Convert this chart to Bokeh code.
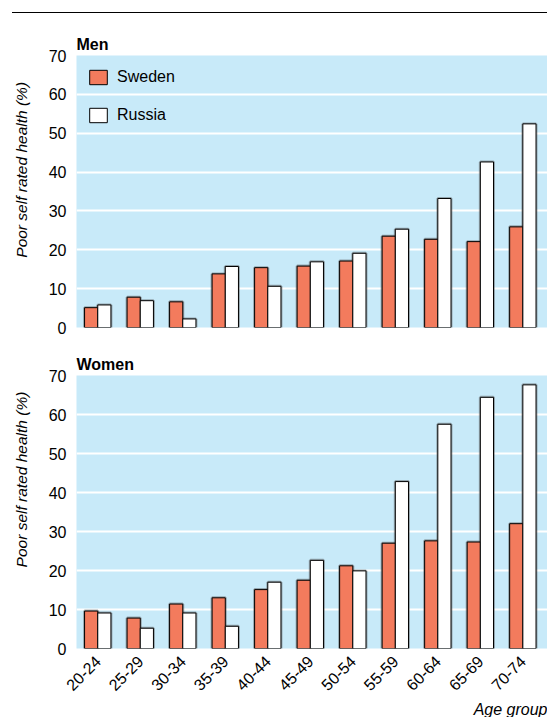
import numpy as np
from bokeh.plotting import figure
from bokeh.models import Range1d, FixedTicker, Title, Legend, LegendItem, Div, ColumnDataSource
from bokeh.layouts import column, row
from bokeh.core.properties import value
from bokeh.embed import file_html
from bokeh.resources import INLINE

age_groups = ["20-24", "25-29", "30-34", "35-39", "40-44", "45-49",
              "50-54", "55-59", "60-64", "65-69", "70-74"]
men_sweden = [5.1, 7.8, 6.6, 13.8, 15.4, 15.8, 17.1, 23.5, 22.7, 22.1, 25.9]
men_russia = [5.8, 6.9, 2.2, 15.7, 10.6, 16.9, 19.1, 25.3, 33.2, 42.6, 52.4]
women_sweden = [9.6, 7.8, 11.4, 13.0, 15.1, 17.5, 21.2, 27.0, 27.6, 27.3, 32.0]
women_russia = [9.1, 5.2, 9.1, 5.7, 17.0, 22.6, 19.9, 42.8, 57.5, 64.4, 67.6]
y_ticks = [0, 10, 20, 30, 40, 50, 60, 70]
y_label = "Poor self rated health (%)"

SWEDEN = "#F37B5D"
RUSSIA = "#FFFFFF"
BG = "#C8EAF9"
FONT = "'Liberation Sans', Arial, sans-serif"
LAB_W = 36
W = 547 - LAB_W
BAR_W = 0.31


def make_label(height, top_gap):
    f = figure(width=LAB_W, height=height, output_backend="svg", toolbar_location=None,
               x_range=Range1d(0, LAB_W), y_range=Range1d(0, height),
               x_axis_location=None, y_axis_location=None,
               min_border=0)
    f.outline_line_color = None
    f.grid.visible = False
    f.text(x=[21], y=[height - top_gap], text=[y_label], angle=np.pi / 2,
           text_align="right", text_baseline="middle", text_font=value(FONT),
           text_font_size="15.5px", text_font_style="italic", text_color="black")
    return f


def make_panel(name, sweden, russia, height, b_top, b_bottom, show_x, legend):
    p = figure(width=W, height=height, output_backend="svg", toolbar_location=None,
               x_range=Range1d(-0.50, 10.58), y_range=Range1d(0, 70),
               x_axis_location="below" if show_x else None,
               min_border_left=76 - LAB_W, min_border_right=0,
               min_border_top=b_top, min_border_bottom=b_bottom)
    p.background_fill_color = BG
    p.outline_line_color = None
    p.border_fill_color = "white"

    idx = np.arange(len(age_groups))
    src = ColumnDataSource(dict(xs=idx - BAR_W / 2, xr=idx + BAR_W / 2,
                                sw=sweden, ru=russia))
    # soft shadow
    for col, xc in (("sw", "xs"), ("ru", "xr")):
        p.vbar(x=xc, top=col, width=BAR_W, source=src, fill_alpha=0,
               line_color="#555555", line_alpha=0.45, line_width=3)
    r_sw = p.vbar(x="xs", top="sw", width=BAR_W, source=src,
                  fill_color=SWEDEN, line_color="black", line_width=1)
    r_ru = p.vbar(x="xr", top="ru", width=BAR_W, source=src,
                  fill_color=RUSSIA, line_color="black", line_width=1)

    p.xgrid.visible = False
    p.ygrid.ticker = FixedTicker(ticks=y_ticks)
    p.ygrid.grid_line_color = "white"
    p.ygrid.grid_line_width = 2

    ya = p.yaxis[0]
    ya.ticker = FixedTicker(ticks=y_ticks)
    ya.axis_line_color = None
    ya.major_tick_line_color = None
    ya.minor_tick_line_color = None
    ya.major_label_standoff = 4
    ya.major_label_text_font = FONT
    ya.major_label_text_font_size = "16px"
    ya.major_label_text_color = "black"

    if show_x:
        xa = p.xaxis[0]
        xa.ticker = FixedTicker(ticks=list(range(len(age_groups))))
        xa.major_label_overrides = {i: g for i, g in enumerate(age_groups)}
        xa.major_label_orientation = np.pi / 4
        xa.axis_line_color = None
        xa.major_tick_line_color = None
        xa.minor_tick_line_color = None
        xa.major_label_standoff = 4
        xa.major_label_text_font = FONT
        xa.major_label_text_font_size = "16px"
        xa.major_label_text_color = "black"
        p.add_layout(Title(text="Age group", align="right", text_font=FONT,
                           text_font_size="16px", text_font_style="italic",
                           text_color="black", standoff=0), "below")

    p.title = Title(text=name, align="left", text_font=FONT, text_font_size="16px",
                    text_font_style="bold", text_color="black", standoff=6)

    if legend:
        lg = Legend(items=[LegendItem(label="Sweden", renderers=[r_sw]),
                           LegendItem(label="Russia", renderers=[r_ru])],
                    location=(11, 203), glyph_width=22, glyph_height=18,
                    label_height=18, label_standoff=8, spacing=20,
                    padding=0, margin=0, border_line_color=None,
                    background_fill_alpha=0, label_text_font=FONT,
                    label_text_font_size="16px", label_text_color="black")
        p.add_layout(lg, "center")
    return p


top_rule = Div(text="", width=535, height=4, margin=(12, 0, 0, 12),
               styles={"border-top": "1.3px solid black"})
H1, H2 = 329, 372
p1 = make_panel("Men", men_sweden, men_russia, H1, 39, 18, False, True)
p2 = make_panel("Women", women_sweden, women_russia, H2, 30, 69, True, False)
l1 = make_label(H1, 32)
l2 = make_label(H2, 22)

layout = column(top_rule, row(l1, p1, spacing=0), row(l2, p2, spacing=0), spacing=0)
open("out.html", "w").write(file_html(layout, INLINE))
